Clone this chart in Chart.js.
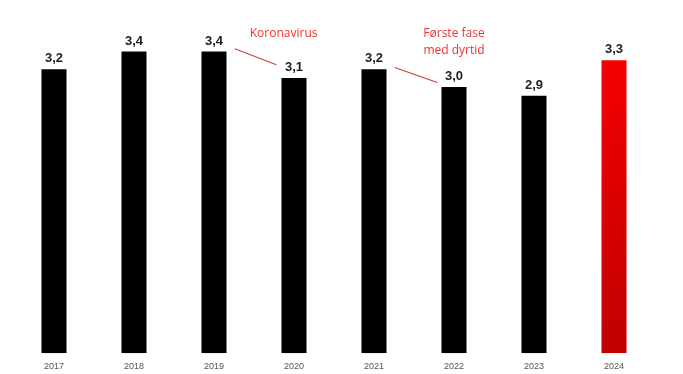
<!DOCTYPE html>
<html>
<head>
<meta charset="utf-8">
<script src="https://cdn.jsdelivr.net/npm/chart.js@4"></script>
<style>
    html, body { margin: 0; padding: 0; background: #fff; }
    #wrap { width: 683px; height: 374px; position: relative; }
</style>
</head>
<body>
<div id="wrap"><canvas id="chart"></canvas></div>
<script>
    const years = ["2017", "2018", "2019", "2020", "2021", "2022", "2023", "2024"];
    const values = [3.2, 3.4, 3.4, 3.1, 3.2, 3.0, 2.9, 3.3];
    const highlightYear = "2024";

    // notes sit between bars: [category index, value]
    const notes = [
        { lines: ["Koronavirus"], at: [2.87, 3.6], from: [2.26, 3.43], to: [2.78, 3.25] },
        { lines: ["Første fase", "med dyrtid"], at: [5.0, 3.6], from: [4.26, 3.22], to: [4.79, 3.05] }
    ];

    const fmt = (v) => v.toFixed(1).replace(".", ",");

    const barColor = (ctx) => {
        if (years[ctx.dataIndex] !== highlightYear) {
            return "#000000";
        }
        const area = ctx.chart.chartArea;
        if (!area) {
            return "#e00000";
        }
        const g = ctx.chart.ctx.createLinearGradient(0, area.top, 0, area.bottom);
        g.addColorStop(0, "#ff0000");
        g.addColorStop(1, "#c00000");
        return g;
    };

    const valueLabels = {
        id: "valueLabels",
        afterDatasetsDraw(chart) {
            const ctx = chart.ctx;
            const meta = chart.getDatasetMeta(0);
            ctx.save();
            ctx.font = "bold 13px 'Liberation Sans', Arial, sans-serif";
            ctx.fillStyle = "#222";
            ctx.textAlign = "center";
            ctx.textBaseline = "bottom";
            meta.data.forEach((bar, i) => {
                ctx.fillText(fmt(values[i]), bar.x, bar.y - 4);
            });
            ctx.restore();
        }
    };

    const noteLayer = {
        id: "noteLayer",
        afterDatasetsDraw(chart) {
            const ctx = chart.ctx;
            const x = chart.scales.x;
            const y = chart.scales.y;
            const px = (p) => [x.getPixelForValue(p[0]), y.getPixelForValue(p[1])];
            ctx.save();
            notes.forEach((n) => {
                const [tx, ty] = px(n.at);
                ctx.font = "12px 'Open Sans', sans-serif";
                ctx.fillStyle = "#ee3333";
                ctx.textAlign = "center";
                ctx.textBaseline = "middle";
                n.lines.forEach((line, i) => ctx.fillText(line, tx, ty + i * 17));
                const [x1, y1] = px(n.from);
                const [x2, y2] = px(n.to);
                ctx.strokeStyle = "#c84040";
                ctx.lineWidth = 1.2;
                ctx.beginPath();
                ctx.moveTo(x1, y1);
                ctx.lineTo(x2, y2);
                ctx.stroke();
            });
            ctx.restore();
        }
    };

    new Chart(document.getElementById("chart"), {
        type: "bar",
        data: {
            labels: years,
            datasets: [{
                data: values,
                backgroundColor: barColor,
                barPercentage: 0.625,
                categoryPercentage: 0.5
            }]
        },
        options: {
            responsive: true,
            maintainAspectRatio: false,
            animation: false,
            layout: {
                padding: { left: 14, right: 29, top: 0, bottom: -6 }
            },
            scales: {
                x: {
                    grid: { display: false, drawTicks: false },
                    border: { display: false },
                    ticks: {
                        color: "#555",
                        padding: 8,
                        font: { size: 9, family: "'Liberation Sans', Arial, sans-serif" }
                    }
                },
                y: {
                    display: false,
                    min: 0,
                    max: 3.98
                }
            },
            plugins: {
                legend: { display: false },
                tooltip: { enabled: false }
            }
        },
        plugins: [valueLabels, noteLayer]
    });
</script>
</body>
</html>
